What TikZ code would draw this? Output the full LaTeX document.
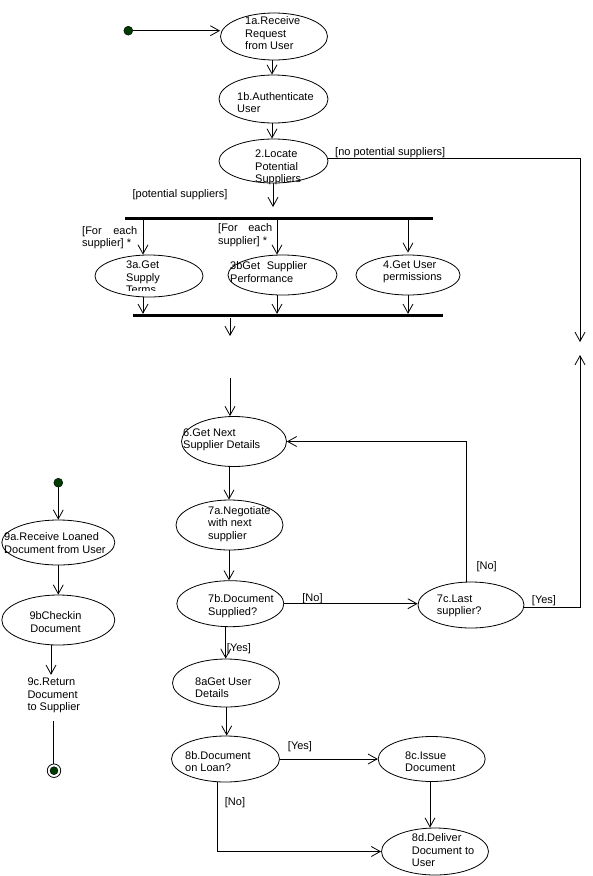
\documentclass[tikz,border=0pt]{standalone}
\usepackage{fontspec}
\setmainfont{Liberation Sans}
\usetikzlibrary{arrows.meta,shapes.geometric,calc}
\definecolor{dotgreen}{RGB}{0,60,0}
\tikzset{
  act/.style={ellipse, draw, line width=0.8pt, inner sep=0pt},
  txt/.style={anchor=west, align=left, inner sep=0pt, font=\fontsize{11}{12.5}\selectfont},
  lbl/.style={inner sep=0pt, font=\fontsize{11}{12.5}\selectfont},
  arr/.style={line width=0.8pt, -{Straight Barb[length=9pt,width=10pt,line width=0.8pt]}},
  conn/.style={line width=0.8pt},
  syncbar/.style={rectangle, fill=black, inner sep=0pt, minimum height=3pt},
  startdot/.style={circle, fill=dotgreen, draw=black, line width=0.4pt, inner sep=0pt, minimum size=9pt},
  enddot/.style={circle, draw=black, line width=0.8pt, inner sep=0pt, minimum size=13.5pt},
}
\begin{document}
\begin{tikzpicture}[x=1pt,y=-1pt]
\useasboundingbox[fill=white] (0,0) rectangle (593,876);

% ---------- activity ellipses ----------
\node[act, minimum width=107pt, minimum height=47pt] (e1a) at (274,36.5) {};
\node[act, minimum width=109pt, minimum height=48pt] (e1b) at (273.5,99) {};
\node[act, minimum width=109pt, minimum height=44pt] (e2)  at (273.5,161) {};
\node[act, minimum width=108pt, minimum height=42pt] (e3a) at (149,276) {};
\node[act, minimum width=109pt, minimum height=40pt] (e3b) at (282.5,275) {};
\node[act, minimum width=104pt, minimum height=40pt] (e4)  at (408,275) {};
\node[act, minimum width=105pt, minimum height=50pt] (e6)  at (234,441.5) {};
\node[act, minimum width=107pt, minimum height=50pt] (e7a) at (229.5,525) {};
\node[act, minimum width=107pt, minimum height=46pt] (e7b) at (230.3,603.7) {};
\node[act, minimum width=106pt, minimum height=46pt] (e7c) at (471,605) {};
\node[act, minimum width=107pt, minimum height=48pt] (e8a) at (226,683) {};
\node[act, minimum width=108pt, minimum height=46pt] (e8b) at (225.5,759) {};
\node[act, minimum width=107pt, minimum height=45pt] (e8c) at (431.7,759) {};
\node[act, minimum width=107pt, minimum height=47pt] (e8d) at (435,851.5) {};
\node[act, minimum width=113pt, minimum height=45pt] (e9a) at (58.3,542.5) {};
\node[act, minimum width=113pt, minimum height=50pt] (e9b) at (58.3,620) {};

% ---------- texts ----------
\node[txt] (t1a) at (245,33.5) {1a.Receive\\Request\\from User};
\node[txt] (t1b) at (237,102.5) {1b.Authenticate\\User};
\node[txt] (t2)  at (255,167.5) {2.Locate\\Potential\\Suppliers};
\begin{scope}
  \clip (90,240) rectangle (210,290.5);
  \node[txt] (t3a) at (126,277.5) {3a.Get\\Supply\\Terms};
\end{scope}
\node[txt] (t3b) at (230,272) {3bGet\hspace{0.6em}Supplier\\Performance};
\node[txt] (t4)  at (383,272) {4.Get User\\permissions};
\node[txt] (t6)  at (183,440) {6.Get Next\\Supplier Details};
\node[txt] (t7a) at (208,524) {7a.Negotiate\\with next\\supplier};
\node[txt] (t7b) at (208,606) {7b.Document\\Supplied?};
\node[txt] (t7c) at (436.7,606) {7c.Last\\supplier?};
\node[txt] (t8a) at (195,687.5) {8aGet User\\Details};
\node[txt] (t8b) at (185,761.5) {8b.Document\\on Loan?};
\node[txt] (t8c) at (405,761.5) {8c.Issue\\Document};
\node[txt] (t8d) at (411.7,850.5) {8d.Deliver\\Document to\\User};
\node[txt] (t9a) at (4,543) {9a.Receive Loaned\\Document from User};
\node[txt, anchor=center, align=center] (t9b) at (55.5,622) {9bCheckin\\Document};
\node[txt] (t9c) at (27.3,695.5) {9c.Return\\Document\\to Supplier};

% ---------- synchronisation bars ----------
\node[syncbar, minimum width=308pt] (fork) at (279,218.5) {};
\node[syncbar, minimum width=310pt] (join) at (288,315.5) {};

% ---------- start / end ----------
\node[startdot] (s1) at (128.3,30.7) {};
\node[startdot] (s2) at (58.3,482.7) {};
\node[enddot] (fin) at (54,770.7) {};
\node[circle, fill=dotgreen, draw=black, line width=0.4pt, inner sep=0pt, minimum size=8pt] (finin) at (fin) {};

% ---------- free ends ----------
\coordinate (forkin) at (273,207);
\coordinate (joinout) at (230,336);
\coordinate (sixin) at (230,378);
\coordinate (nosup) at (580,342);
\coordinate (yesend) at (580,355);

% ---------- connectors ----------
\draw[arr] (s1) -- (s1 -| e1a.west);
\draw[arr] (e1a.south -| 272,0) -- (e1b.north -| 272,0);
\draw[arr] (e1b.south -| 272,0) -- (e2.north -| 272,0);
\draw[arr] (e2.south -| forkin) -- (forkin);
\draw[arr] ([yshift=3pt]e2.east) -| (nosup);

\draw[arr] (fork.south -| 143,0) -- (e3a.north -| 143,0);
\draw[arr] (fork.south -| 277,0) -- (e3b.north -| 277,0);
\draw[arr] (fork.south -| 408,0) -- ([yshift=2pt]e4.north -| 408,0);
\draw[arr] (e3a.south -| 143,0) -- (join.north -| 143,0);
\draw[arr] (e3b.south -| 277,0) -- (join.north -| 277,0);
\draw[arr] (e4.south -| 408,0) -- (join.north -| 408,0);
\draw[arr] ([yshift=-1pt]join.south -| joinout) -- (joinout);

\draw[arr] (sixin) -- (e6.north -| sixin);
\draw[arr] (e6.south -| 229,0) -- (e7a.north -| 229,0);
\draw[arr] (e7a.south -| 229,0) -- (e7b.north -| 229,0);
\draw[arr] (e7b.east) -- (e7b.east -| e7c.west);
\draw[arr] (e7c.north -| 466.7,0) |- (e6.east);
\draw[arr] ([yshift=-2pt]e7c.east) -| (yesend);
\draw[arr] (e7b.south -| 225.7,0) -- (e8a.north -| 225.7,0);
\draw[arr] (e8a.south -| 226.7,0) -- (e8b.north -| 226.7,0);
\draw[arr] (e8b.east) -- (e8b.east -| e8c.west);
\draw[arr] (e8c.south -| 430,0) -- (e8d.north -| 430,0);
\draw[arr] (e8b.south -| 217.7,0) |- (e8d.west);

\draw[arr] (s2) -- (e9a.north -| s2);
\draw[arr] (e9a.south -| 58.3,0) -- (e9b.north -| 58.3,0);
\draw[arr, shorten >=3pt] (e9b.south -| 51,0) -- (t9c.north -| 51,0);
\draw[conn, shorten <=8pt] (t9c.south -| 53.5,0) -- (fin.north -| 53.5,0);

% ---------- guard labels ----------
\node[lbl] (lps) at (180,195) {[potential suppliers]};
\node[lbl, anchor=west] (lnps) at (335,153) {[no potential suppliers]};
\node[lbl, anchor=west, align=left] (lfe1) at (82,237.5) {\makebox[55pt][l]{[For\hfill each}\\supplier] *};
\node[lbl, anchor=west, align=left] (lfe2) at (218,235) {\makebox[54pt][l]{[For\hfill each}\\supplier] *};
\node[lbl] (lno1) at (312.5,599) {[No]};
\node[lbl] (lno2) at (486.7,566.7) {[No]};
\node[lbl] (lyes1) at (544,600.7) {[Yes]};
\node[lbl] (lyes2) at (239,648.3) {[Yes]};
\node[lbl] (lyes3) at (300,746.7) {[Yes]};
\node[lbl] (lno3) at (235,802.7) {[No]};
\end{tikzpicture}
\end{document}
